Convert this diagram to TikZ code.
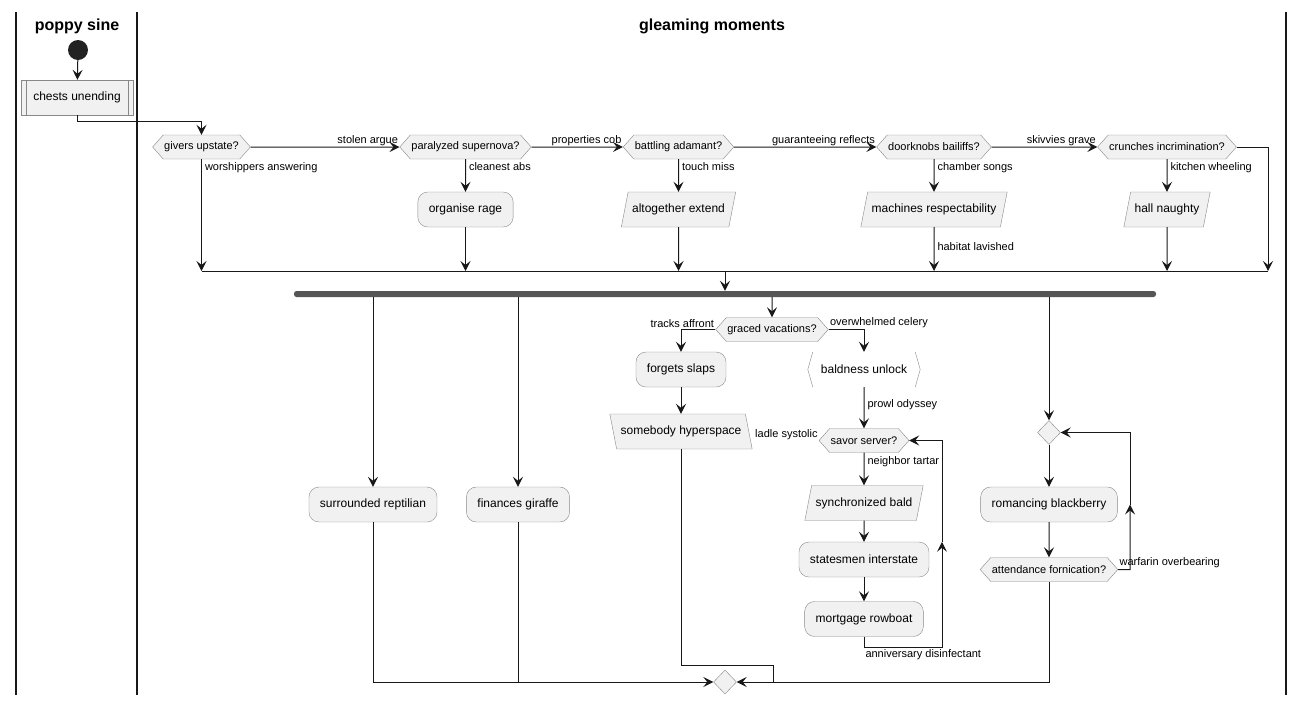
\documentclass[tikz,border=0pt]{standalone}
\usepackage{fontspec}
\setmainfont{Liberation Sans}
\usetikzlibrary{arrows.meta,shapes.geometric,shapes.symbols}

\definecolor{actfill}{HTML}{F1F1F1}
\definecolor{bordc}{HTML}{888888}
\definecolor{linec}{HTML}{181818}
\definecolor{forkc}{HTML}{555555}
\definecolor{startc}{HTML}{222222}

\begin{document}
\begin{tikzpicture}[x=1pt, y=-1pt,
    arr/.style={draw=linec, line width=1pt, -{Stealth[length=10pt, width=10pt, inset=4pt]}},
    con/.style={draw=linec, line width=1pt},
    act/.style={draw=bordc, fill=actfill, rounded corners=10pt, minimum height=35pt, inner xsep=11pt, font=\fontsize{12}{14}\selectfont},
    sub/.style={draw=bordc, fill=actfill, minimum height=35pt, inner xsep=12pt, font=\fontsize{12}{14}\selectfont,
        path picture={\draw[bordc] ([xshift=5pt]path picture bounding box.north west) -- ([xshift=5pt]path picture bounding box.south west);
                      \draw[bordc] ([xshift=-5pt]path picture bounding box.north east) -- ([xshift=-5pt]path picture bounding box.south east);}},
    io/.style={trapezium, trapezium left angle=79, trapezium right angle=101, draw=bordc, fill=actfill,
        text height=9pt, text depth=2.5pt, inner ysep=11.75pt, inner xsep=4pt, font=\fontsize{12}{14}\selectfont},
    iob/.style={io, trapezium left angle=101, trapezium right angle=79},
    dec/.style={signal, signal to=west and east, signal pointer angle=97, draw=bordc, fill=actfill, minimum height=24pt, inner xsep=1pt, inner ysep=0pt, font=\fontsize{11}{13}\selectfont},
    mrgd/.style={diamond, draw=bordc, fill=actfill, minimum width=23pt, minimum height=24pt, inner sep=0pt},
    lbl/.style={inner sep=1pt, font=\fontsize{11}{13}\selectfont},
    lbd/.style={lbl, anchor=north west, xshift=2pt, yshift=-2pt},
    lane/.style={draw=linec, line width=1.5pt},
    title/.style={font=\fontsize{16}{19}\selectfont\bfseries},
]
\useasboundingbox (0,0) rectangle (1304,705);

% swimlanes
\draw[lane] (16,12) -- (16,695);
\draw[lane] (137,12) -- (137,695);
\draw[lane] (1286,12) -- (1286,695);
\node[title] (lanea) at (77,26) {poppy sine};
\node[title] (laneb) at (712,26) {gleaming moments};

% first lane
\node[circle, fill=startc, minimum size=20pt, inner sep=0pt] (start) at (78,50) {};
\node[sub] (chests) at (77,97.5) {chests unending};

% row of decisions
\node[dec] (givers) at (201.5,147) {givers upstate?};
\node[dec] (paral) at (465.5,147) {paralyzed supernova?};
\node[dec] (battl) at (678.5,147) {battling adamant?};
\node[dec] (doork) at (934,147) {doorknobs bailiffs?};
\node[dec] (crunch) at (1167,147) {crunches incrimination?};

\node[act] (organise) at (465.5,209.5) {organise rage};
\node[io] (alto) at (678.5,209.5) {altogether extend};
\node[io] (machines) at (934,209.5) {machines respectability};
\node[io] (hall) at (1167,209.5) {hall naughty};

\coordinate (mrg) at (725,271);
\coordinate (cR) at (1268,147);
\node[fill=forkc, minimum width=862pt, minimum height=6pt, inner sep=0pt, rounded corners=2.5pt] (fork) at (725,294) {};

% parallel branches
\node[act] (sr) at (373,504.5) {surrounded reptilian};
\node[act] (fg) at (518,504.5) {finances giraffe};

\node[dec] (graced) at (772,329.5) {graced vacations?};
\node[act] (forgets) at (681,369.5) {forgets slaps};
\node[iob] (somebody) at (681,431.5) {somebody hyperspace};
\node[minimum height=35pt, minimum width=112pt, fill=white, font=\fontsize{12}{14}\selectfont] (bald) at (864,369.5) {baldness unlock};
\draw[bordc] ([xshift=5pt]bald.north west) -- (bald.west) -- ([xshift=5pt]bald.south west);
\draw[bordc] ([xshift=-5pt]bald.north east) -- (bald.east) -- ([xshift=-5pt]bald.south east);
\node[dec] (savor) at (864,440.5) {savor server?};
\node[io] (sync) at (864,503) {synchronized bald};
\node[act] (states) at (864,559.5) {statesmen interstate};
\node[act] (mortgage) at (864,619) {mortgage rowboat};

\node[mrgd] (loopd) at (1049,432.5) {};
\node[act] (romancing) at (1049,504.5) {romancing blackberry};
\node[dec] (attend) at (1049,569.5) {attendance fornication?};

\node[mrgd] (endd) at (725,682) {};

\coordinate (sj) at (773,665);
\coordinate (lb) at (942,647);
\coordinate (lr) at (1130,569.5);

% connectors
\draw[arr] (start) -- (chests);
\draw[arr] (chests.south) -- ++(0,6) -| (givers.north);

\draw[arr] (givers) -- (paral) node[at end, anchor=south east, lbl] {stolen argue};
\draw[arr] (paral) -- (battl) node[at end, anchor=south east, lbl] {properties cob};
\draw[arr] (battl) -- (doork) node[at end, anchor=south east, lbl] {guaranteeing reflects};
\draw[arr] (doork) -- (crunch) node[at end, anchor=south east, lbl] {skivvies grave};
\draw[arr] (crunch.east) -| (cR |- mrg);

\draw[arr] (givers) -- (givers |- mrg) node[at start, lbd] {worshippers answering};
\draw[arr] (paral) -- (organise) node[at start, lbd] {cleanest abs};
\draw[arr] (organise) -- (organise |- mrg);
\draw[arr] (battl) -- (alto) node[at start, lbd] {touch miss};
\draw[arr] (alto) -- (alto |- mrg);
\draw[arr] (doork) -- (machines) node[at start, lbd] {chamber songs};
\draw[arr] (machines) -- (machines |- mrg) node[pos=0.45, anchor=west, lbl, xshift=2pt] {habitat lavished};
\draw[arr] (crunch) -- (hall) node[at start, lbd] {kitchen wheeling};
\draw[arr] (hall) -- (hall |- mrg);
\draw[con] (givers |- mrg) -- (cR |- mrg);
\draw[arr] (mrg) -- (fork.north -| mrg);

\draw[arr] (fork.south -| sr) -- (sr);
\draw[arr] (fork.south -| fg) -- (fg);
\draw[arr] (fork.south -| graced) -- (graced);
\draw[arr] (fork.south -| loopd) -- (loopd);

\draw[arr] (sr) |- (endd);
\draw[con] (fg) -- (fg |- endd);

\draw[arr] (graced) -| (forgets) node[at start, anchor=south east, lbl] {tracks affront};
\draw[arr] (graced) -| (bald) node[at start, anchor=south west, lbl] {overwhelmed celery};
\draw[arr] (forgets) -- (somebody);
\draw[con] (somebody) |- (sj) -- (sj |- endd);

\draw[arr] (bald) -- (savor) node[pos=0.42, anchor=west, lbl, xshift=2pt] {prowl odyssey};
\node[lbl, anchor=south east] (ladle) at (savor.west) {ladle systolic};
\draw[arr] (savor) -- (sync) node[at start, lbd] {neighbor tartar};
\draw[arr] (sync) -- (states);
\draw[arr] (states) -- (mortgage);
\draw[arr] (mortgage) |- (lb) node[pos=0.5, lbd, xshift=-2pt, yshift=1pt] {anniversary disinfectant} -- (lb |- states.north);
\draw[arr] (lb |- states.north) |- (savor);

\draw[arr] (loopd) -- (romancing);
\draw[arr] (romancing) -- (attend);
\draw[arr] (attend) -- (lr) node[at start, anchor=south west, lbl] {warfarin overbearing} -- (lr |- romancing);
\draw[arr] (lr |- romancing) |- (loopd);
\draw[arr] (attend) |- (endd);
\end{tikzpicture}
\end{document}
